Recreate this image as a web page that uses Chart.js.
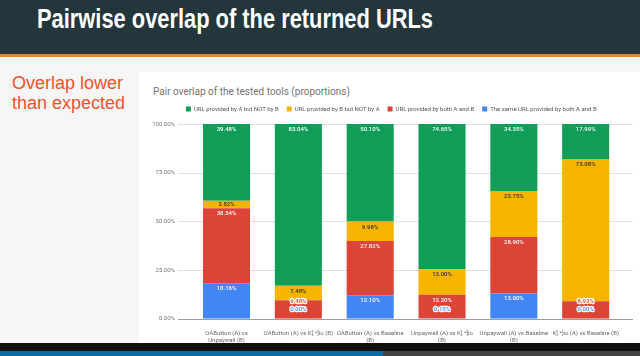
<!DOCTYPE html>
<html><head><meta charset="utf-8">
<script src="https://cdn.jsdelivr.net/npm/chart.js@4.4.1/dist/chart.umd.min.js"></script>
<style>
html,body{margin:0;padding:0;}
body{width:640px;height:356px;position:relative;overflow:hidden;background:#f6f6f6;font-family:'Liberation Sans',Arial,sans-serif;}
#hdr{position:absolute;left:0;top:0;width:640px;height:54px;background:#23363c;}
#orange{position:absolute;left:0;top:54px;width:640px;height:3px;background:#e8892b;}
#title{position:absolute;left:37px;top:6px;font:bold 27px/27px 'Liberation Sans',Arial,sans-serif;color:#fff;white-space:nowrap;transform-origin:0 0;}
#note{position:absolute;left:12px;top:73px;font:18px/20px 'Liberation Sans',Arial,sans-serif;color:#f0522a;}
#card{position:absolute;left:139px;top:72px;width:501px;height:271px;background:#fff;}
#ctitle{position:absolute;left:153px;top:86px;font:10px/12px Roboto,sans-serif;color:#757575;white-space:nowrap;}
#foot{position:absolute;left:0;top:343px;width:640px;height:13px;background:#111;}
#footblue{position:absolute;left:0;top:351px;width:383px;height:5px;background:#0b6ba5;}
#footgrey{position:absolute;left:383px;top:351px;width:257px;height:5px;background:#444;}
#cv{position:absolute;left:139px;top:72px;}
</style></head>
<body>
<div id="hdr"></div><div id="orange"></div>
<div id="title">Pairwise overlap of the returned URLs</div>
<div id="note">Overlap lower<br>than expected</div>
<div id="card"></div>
<div id="ctitle">Pair overlap of the tested tools (proportions)</div>
<canvas id="cv" width="501" height="271"></canvas>
<div id="foot"></div><div id="footblue"></div><div id="footgrey"></div>
<script>
// ---- data ----
const categories = [
  ["OAButton (A) vs","Unpaywall (B)"],
  "OAButton (A) vs K[.*]io (B)",
  ["OAButton (A) vs Baseline","(B)"],
  ["Unpaywall (A) vs K[.*]io","(B)"],
  ["Unpaywall (A) vs Baseline","(B)"],
  "K[.*]io (A) vs Baseline (B)"
];
const seriesNames = [
  "The same URL provided by both A and B",
  "URL provided by both A and B",
  "URL provided by B but NOT by A",
  "URL provided by A but NOT by B"
];
const sameURL = [18.16, 0.00, 12.10, 0.15, 13.00, 0.00];
const bothAB  = [38.54, 9.48, 27.82, 12.20, 28.90, 8.93];
const bNotA   = [3.82, 7.48, 9.98, 13.00, 23.75, 73.08];
const aNotB   = [39.48, 83.04, 50.10, 74.65, 34.35, 17.99];
const yTicks  = [0, 25, 50, 75, 100];

const colors = ['#4285f4', '#db4437', '#f4b400', '#0f9d58'];
const fmtPct = v => v.toFixed(2) + '%';

// fit header title width
(function(){
  const t = document.getElementById('title');
  const fit = () => { t.style.transform = 'none'; const w = t.getBoundingClientRect().width; t.style.transform = 'scaleX(' + (396 / w) + ')'; };
  fit();
  if (document.fonts && document.fonts.ready) document.fonts.ready.then(fit);
})();

// gridlines extending past the plot edges, plus y tick labels
const gridExt = {
  id: 'gridExt',
  beforeDatasetsDraw(chart) {
    const ctx = chart.ctx, ys = chart.scales.y, ca = chart.chartArea;
    ctx.save();
    ctx.lineWidth = 1;
    ctx.font = '6px Roboto, sans-serif';
    ctx.textAlign = 'right';
    ctx.textBaseline = 'middle';
    ys.ticks.forEach(t => {
      const py = ys.getPixelForValue(t.value);
      const y = Math.round(py) + 0.5;
      ctx.strokeStyle = t.value === 0 ? '#9e9e9e' : '#e0e0e0';
      ctx.beginPath();
      ctx.moveTo(ca.left - 12.6, y);
      ctx.lineTo(ca.right + 11.4, y);
      ctx.stroke();
      ctx.fillStyle = '#757575';
      ctx.fillText(fmtPct(t.value), ca.left - 15.6, py);
    });
    ctx.restore();
  }
};

const segLabels = {
  id: 'segLabels',
  afterDatasetsDraw(chart) {
    const ctx = chart.ctx;
    ctx.save();
    ctx.font = '500 6px Roboto, sans-serif';
    ctx.textAlign = 'center';
    ctx.textBaseline = 'middle';
    const n = chart.data.labels.length;
    for (let i = 0; i < n; i++) {
      let nextY = null;
      chart.data.datasets.forEach((ds, d) => {
        const el = chart.getDatasetMeta(d).data[i];
        const top = Math.min(el.y, el.base), bottom = Math.max(el.y, el.base);
        const h = bottom - top;
        const txt = fmtPct(ds.data[i]);
        if (nextY === null) nextY = bottom - 9;
        if (d < 2 && h < 20) {
          ctx.lineWidth = 2.5;
          ctx.strokeStyle = '#fff';
          ctx.lineJoin = 'round';
          ctx.strokeText(txt, el.x, nextY);
          ctx.fillStyle = colors[d];
          ctx.fillText(txt, el.x, nextY);
          nextY -= 8;
        } else {
          ctx.fillStyle = d === 2 ? '#333' : '#fff';
          ctx.fillText(txt, el.x, top + Math.min(5.5, h / 2));
        }
      });
    }
    ctx.restore();
  }
};

const seriesData = [sameURL, bothAB, bNotA, aNotB];
new Chart(document.getElementById('cv'), {
  type: 'bar',
  data: {
    labels: categories,
    datasets: seriesData.map((d, k) => ({
      label: seriesNames[k], data: d, backgroundColor: colors[k], borderWidth: 0,
      barPercentage: 0.655, categoryPercentage: 1
    }))
  },
  options: {
    responsive: false, animation: false, devicePixelRatio: 1,
    layout: { padding: { top: 26, right: 18.4, left: 22, bottom: 0 } },
    plugins: {
      tooltip: { enabled: false },
      title: { display: false },
      subtitle: { display: true, text: '', weight: 500, padding: 0, font: { size: 2, lineHeight: 1 } },
      legend: {
        position: 'top', reverse: true,
        labels: { boxWidth: 5, boxHeight: 5, padding: 8, color: '#555',
          font: { size: 6, family: 'Roboto, sans-serif' } }
      }
    },
    scales: {
      x: {
        stacked: true,
        grid: { display: false }, border: { display: false },
        ticks: { font: { size: 6, family: 'Roboto, sans-serif' }, color: '#666', padding: 3,
          maxRotation: 0, autoSkip: false },
        afterFit(s) { s.height = 24.3; }
      },
      y: {
        stacked: true, min: 0, max: 100,
        grid: { display: false, drawTicks: false }, border: { display: false },
        afterBuildTicks(s) { s.ticks = yTicks.map(v => ({ value: v })); },
        ticks: { display: false },
        afterFit(s) { s.width = 29.6; }
      }
    }
  },
  plugins: [gridExt, segLabels]
});
</script>
</body></html>
